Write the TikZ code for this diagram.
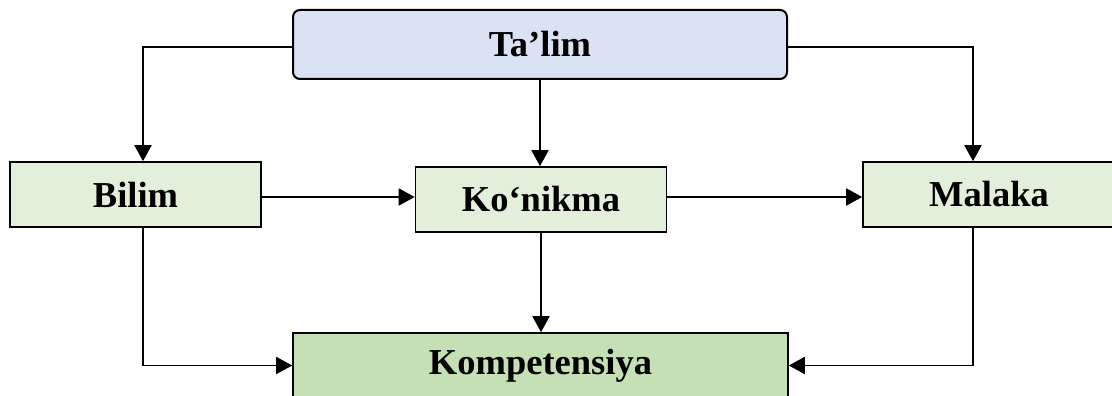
\documentclass[tikz,border=0pt]{standalone}
\usepackage{fontspec}
\setmainfont{Liberation Serif}
\usetikzlibrary{arrows.meta}
\definecolor{blueFill}{HTML}{DAE3F3}
\definecolor{lightGreen}{HTML}{E2EFDA}
\definecolor{darkGreen}{HTML}{C5E0B4}
\tikzset{
  box/.style={draw=black, line width=1.6pt, minimum width=251pt, minimum height=65pt,
    inner sep=0pt, font=\fontsize{36.5}{40}\selectfont\bfseries},
  lbox/.style={box, fill=lightGreen},
  arr/.style={line width=1.9pt, -{Triangle[length=16pt,width=17pt]}},
}
\begin{document}
\begin{tikzpicture}[x=1pt,y=-1pt]
\useasboundingbox (0,0) rectangle (1112,396);
\clip (0,0) rectangle (1112,396);
\node[box, fill=blueFill, rounded corners=7pt, minimum width=494pt, minimum height=69pt, line width=2pt] (talim) at (540,44.5) {Ta’lim};
\node[lbox] (bilim) at (135.5,194.5) {Bilim};
\node[lbox] (konikma) at (541,199.5) {Ko‘nikma};
\node[lbox, minimum width=252pt] (malaka) at (989,194.5) {Malaka};
\node[box, fill=darkGreen, minimum width=495pt] (komp) at (540.5,365.5) {Kompetensiya};

\draw[arr] ([yshift=-2.5pt]talim.west) -| ([xshift=7.5pt]bilim.north);
\draw[arr] ([yshift=-2.5pt]talim.east) -| ([xshift=-16pt]malaka.north);
\draw[arr] (talim.south) -- (talim.south |- konikma.north);
\draw[arr] ([yshift=-2.5pt]bilim.east) -- ([yshift=2.5pt]konikma.west);
\draw[arr] ([yshift=2.5pt]konikma.east) -- ([yshift=-2.5pt]malaka.west);
\draw[arr] (konikma.south) -- (konikma.south |- komp.north);
\draw[arr] ([xshift=7.5pt]bilim.south) |- (komp.west);
\draw[arr] ([xshift=-16pt]malaka.south) |- (komp.east);
\end{tikzpicture}
\end{document}
